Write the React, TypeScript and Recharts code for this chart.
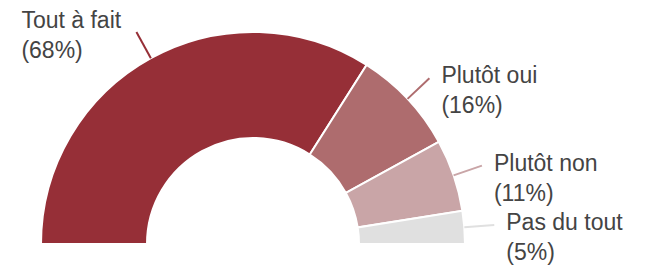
import React from 'react';
import { PieChart, Pie, Cell } from 'recharts';

const categories = ['Tout à fait', 'Plutôt oui', 'Plutôt non', 'Pas du tout'];
const shares = [68, 16, 11, 5];
const colors = ['#962f37', '#ae6c6e', '#c9a5a7', '#e0e0e0'];

const data = categories.map((name, i) => ({ name, value: shares[i] }));

const RADIAN = Math.PI / 180;

const renderLabel = (props: any) => {
  const { cx, cy, midAngle, outerRadius, index, name, value } = props;
  const cos = Math.cos(-midAngle * RADIAN);
  const sin = Math.sin(-midAngle * RADIAN);
  const sx = cx + outerRadius * cos;
  const sy = cy + outerRadius * sin;
  const ex = cx + (outerRadius + 30) * cos;
  const ey = cy + (outerRadius + 30) * sin;
  const left = cos < 0;
  const tx = left ? ex - 115 : ex + 12;
  const ty = left ? ey - 4 : ey + 5;
  return (
    <g>
      <path d={`M${sx},${sy}L${ex},${ey}`} stroke={colors[index]} strokeWidth={2} fill="none" />
      <text x={tx} y={ty} fill="#444" fontSize={23} fontFamily="'Liberation Sans', Arial, sans-serif">
        <tspan x={tx}>{name}</tspan>
        <tspan x={tx} dy={30}>({value}%)</tspan>
      </text>
    </g>
  );
};

export default function App() {
  return (
    <div style={{ position: 'absolute', left: 0, top: 0, background: '#fff' }}>
      <PieChart width={646} height={269} margin={{ top: 0, right: 0, bottom: 0, left: 0 }}>
        <Pie
          data={data}
          dataKey="value"
          nameKey="name"
          cx={253}
          cy={244}
          startAngle={180}
          endAngle={0}
          innerRadius={106}
          outerRadius={212}
          stroke="#fff"
          strokeWidth={2}
          label={renderLabel}
          labelLine={false}
          isAnimationActive={false}
        >
          {data.map((d, i) => (
            <Cell key={d.name} fill={colors[i]} />
          ))}
        </Pie>
      </PieChart>
    </div>
  );
}
